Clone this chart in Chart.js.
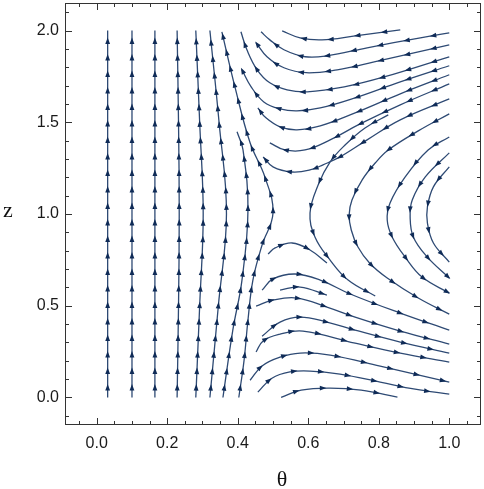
<!DOCTYPE html>
<html>
<head>
<meta charset="utf-8">
<script src="https://cdn.jsdelivr.net/npm/chart.js@4"></script>
<style>
  html, body { margin: 0; padding: 0; background: #fff; }
  canvas { display: block; }
</style>
</head>
<body>
<canvas id="flowChart" width="484" height="489"></canvas>
<script>
// tick labels
const xTickLabels = [0, 0.2, 0.4, 0.6, 0.8, 1.0];
const yTickLabels = [0, 0.5, 1.0, 1.5, 2.0];
const xMinorTicks = [-0.05, 0, 0.05, 0.1, 0.15, 0.2, 0.25, 0.3, 0.35, 0.4, 0.45, 0.5, 0.55, 0.6, 0.65, 0.7, 0.75, 0.8, 0.85, 0.9, 0.95, 1.0, 1.05];
const yMinorTicks = [-0.1, 0, 0.1, 0.2, 0.3, 0.4, 0.5, 0.6, 0.7, 0.8, 0.9, 1.0, 1.1, 1.2, 1.3, 1.4, 1.5, 1.6, 1.7, 1.8, 1.9, 2.0, 2.1];

// streamlines, [theta, z] in flow order
// left side, flowing up
const v1 = [[0.031, 0], [0.031, 2]];
const v2 = [[0.100, 0], [0.100, 2]];
const v3 = [[0.165, 0], [0.165, 2]];
const v4 = [[0.228, 0], [0.232, 0.5], [0.234, 1], [0.232, 1.5], [0.228, 2]];
const v5 = [[0.281, 0], [0.292, 0.5], [0.302, 1], [0.292, 1.5], [0.281, 2]];
const v6 = [[0.321, 0], [0.345, 0.5], [0.368, 1], [0.347, 1.5], [0.321, 2]];
const v7 = [[0.403, 0], [0.418, 0.204], [0.429, 0.422], [0.443, 0.640], [0.469, 0.831], [0.500, 1.005],
            [0.477, 1.202], [0.435, 1.388], [0.392, 1.693], [0.355, 1.993]];
const v8 = [[0.358, 0], [0.386, 0.367], [0.412, 0.640], [0.429, 1.022], [0.415, 1.349], [0.398, 1.448]];

// upper side, flowing left then up
const u1 = [[0.861, 2.004], [0.733, 1.971], [0.639, 1.949], [0.577, 1.960], [0.526, 1.998]];
const u2 = [[1.0, 1.987], [0.918, 1.960], [0.767, 1.906], [0.653, 1.862], [0.591, 1.857], [0.531, 1.895], [0.491, 1.949], [0.466, 1.993]];
const u3 = [[1.0, 1.922], [0.787, 1.829], [0.682, 1.786], [0.594, 1.770], [0.531, 1.797], [0.483, 1.857], [0.452, 1.933]];
const u4 = [[1.0, 1.857], [0.815, 1.747], [0.702, 1.693], [0.597, 1.666], [0.540, 1.677], [0.491, 1.715], [0.455, 1.786], [0.426, 1.895], [0.409, 1.993]];
const u5 = [[1.0, 1.808], [0.861, 1.720], [0.733, 1.633], [0.634, 1.578], [0.568, 1.562], [0.520, 1.573], [0.474, 1.611], [0.438, 1.693], [0.412, 1.786]];
const u6 = [[1.0, 1.759], [0.861, 1.655], [0.733, 1.551], [0.634, 1.480], [0.568, 1.459], [0.520, 1.475], [0.480, 1.524], [0.457, 1.578]];
const u7 = [[1.0, 1.709], [0.861, 1.595], [0.747, 1.491], [0.662, 1.404], [0.591, 1.349], [0.534, 1.349], [0.491, 1.388]];
const u8 = [[1.0, 1.627], [0.861, 1.513], [0.767, 1.404], [0.690, 1.311], [0.642, 1.268], [0.605, 1.240], [0.554, 1.229], [0.500, 1.257], [0.472, 1.311]];

// right side, flowing down
const r0 = [[0.827, 1.540], [0.761, 1.469], [0.705, 1.377], [0.662, 1.284], [0.628, 1.158], [0.605, 1.005],
            [0.619, 0.875], [0.662, 0.749], [0.713, 0.640], [0.790, 0.553]];
const ca = [[1.0, 1.546], [0.912, 1.453], [0.827, 1.349], [0.790, 1.278], [0.753, 1.186], [0.724, 1.076], [0.716, 0.995],
            [0.722, 0.913], [0.741, 0.820], [0.775, 0.730], [0.824, 0.651], [0.912, 0.542], [1.0, 0.454]];
const cb = [[1.0, 1.420], [0.940, 1.349], [0.875, 1.202], [0.832, 1.060], [0.824, 0.967], [0.838, 0.875], [0.875, 0.765], [0.923, 0.656], [1.0, 0.569]];
const cc = [[1.0, 1.333], [0.932, 1.202], [0.895, 1.076], [0.889, 0.984], [0.898, 0.875], [0.938, 0.765], [1.0, 0.651]];
const cd = [[1.0, 1.257], [0.955, 1.148], [0.938, 1.038], [0.938, 0.951], [0.955, 0.842], [1.0, 0.738]];

// lower side, flowing up then right
const l1 = [[0.523, 0], [0.580, 0.040], [0.662, 0.051], [0.750, 0.040], [0.853, 0.002]];
const l2 = [[0.457, 0.029], [0.497, 0.105], [0.548, 0.139], [0.605, 0.144], [0.690, 0.127], [0.804, 0.084], [0.903, 0.045], [1.0, 0.018]];
const l3 = [[0.435, 0.094], [0.469, 0.172], [0.520, 0.220], [0.577, 0.242], [0.662, 0.231], [0.804, 0.171], [1.0, 0.084]];
const l4 = [[0.452, 0.248], [0.472, 0.308], [0.520, 0.345], [0.585, 0.362], [0.733, 0.296], [0.861, 0.242], [1.0, 0.193]];
const l5 = [[0.469, 0.334], [0.520, 0.411], [0.577, 0.438], [0.653, 0.411], [0.733, 0.367], [0.861, 0.302], [1.0, 0.242]];
const l6 = [[0.452, 0.498], [0.500, 0.531], [0.568, 0.542], [0.653, 0.493], [0.733, 0.438], [0.861, 0.362], [1.0, 0.291]];
const l7 = [[0.469, 0.585], [0.500, 0.646], [0.563, 0.673], [0.634, 0.640], [0.719, 0.564], [0.861, 0.460], [1.0, 0.367]];
const l8 = [[0.486, 0.782], [0.506, 0.815], [0.554, 0.842], [0.605, 0.804], [0.653, 0.733]];
const s2 = [[0.520, 0.585], [0.577, 0.602], [0.653, 0.558]];

const leftLines = [v1, v2, v3, v4, v5, v6, v7, v8];
const otherLines = [u1, u2, u3, u4, u5, u6, u7, u8, r0, ca, cb, cc, cd, l1, l2, l3, l4, l5, l6, l7, l8, s2];

const lineColor = '#2e4a74';
const arrowColor = '#0f2b57';

function makeSet(pts, gap) {
  return {
    data: pts.map(p => ({ x: p[0], y: p[1] })),
    showLine: true,
    borderColor: lineColor,
    borderWidth: 1.3,
    pointRadius: 0,
    tension: 0.4,
    fill: false,
    arrowGap: gap
  };
}

const datasets = leftLines.map(l => makeSet(l, 16.5)).concat(otherLines.map(l => makeSet(l, 27)));

// arrow heads spaced along each drawn curve
const arrowPlugin = {
  id: 'arrows',
  afterDatasetsDraw(chart) {
    const ctx = chart.ctx;
    ctx.save();
    ctx.fillStyle = arrowColor;
    chart.data.datasets.forEach((ds, i) => {
      const pts = chart.getDatasetMeta(i).data;
      const path = [];
      for (let k = 0; k < pts.length - 1; k++) {
        const a = pts[k], b = pts[k + 1];
        const c1x = a.cp2x ?? a.x, c1y = a.cp2y ?? a.y;
        const c2x = b.cp1x ?? b.x, c2y = b.cp1y ?? b.y;
        for (let s = (k ? 1 : 0); s <= 24; s++) {
          const t = s / 24, m = 1 - t;
          path.push([
            m * m * m * a.x + 3 * m * m * t * c1x + 3 * m * t * t * c2x + t * t * t * b.x,
            m * m * m * a.y + 3 * m * m * t * c1y + 3 * m * t * t * c2y + t * t * t * b.y
          ]);
        }
      }
      const gap = ds.arrowGap;
      let next = gap * 0.6, run = 0;
      for (let k = 1; k < path.length; k++) {
        const dx = path[k][0] - path[k - 1][0], dy = path[k][1] - path[k - 1][1];
        const d = Math.hypot(dx, dy);
        if (!d) continue;
        while (run + d >= next) {
          const t = (next - run) / d;
          const px = path[k - 1][0] + dx * t, py = path[k - 1][1] + dy * t;
          const ux = dx / d, uy = dy / d;
          ctx.beginPath();
          ctx.moveTo(px + ux * 3.5, py + uy * 3.5);
          ctx.lineTo(px - ux * 3 - uy * 2.4, py - uy * 3 + ux * 2.4);
          ctx.lineTo(px - ux * 3 + uy * 2.4, py - uy * 3 - ux * 2.4);
          ctx.closePath();
          ctx.fill();
          next += gap;
        }
        run += d;
      }
    });
    ctx.restore();
  }
};

// frame with inward ticks on all four sides, plus axis titles
const framePlugin = {
  id: 'frame',
  afterDraw(chart) {
    const { ctx, chartArea: a, scales } = chart;
    ctx.save();
    ctx.strokeStyle = '#333';
    ctx.lineWidth = 1;
    ctx.strokeRect(a.left + 0.5, a.top + 0.5, a.right - a.left - 1, a.bottom - a.top - 1);
    ctx.beginPath();
    xMinorTicks.forEach(v => {
      const x = Math.round(scales.x.getPixelForValue(v)) + 0.5;
      const len = xTickLabels.some(t => Math.abs(t - v) < 1e-6) ? 7 : 4;
      ctx.moveTo(x, a.bottom); ctx.lineTo(x, a.bottom - len);
      ctx.moveTo(x, a.top); ctx.lineTo(x, a.top + len);
    });
    yMinorTicks.forEach(v => {
      const y = Math.round(scales.y.getPixelForValue(v)) + 0.5;
      const len = yTickLabels.some(t => Math.abs(t - v) < 1e-6) ? 7 : 4;
      ctx.moveTo(a.left, y); ctx.lineTo(a.left + len, y);
      ctx.moveTo(a.right, y); ctx.lineTo(a.right - len, y);
    });
    ctx.stroke();

    ctx.fillStyle = '#111';
    ctx.font = '22px "Liberation Serif", "DejaVu Serif", serif';
    ctx.textAlign = 'center';
    ctx.textBaseline = 'alphabetic';
    ctx.fillText('z', 8, 217);
    ctx.fillText('θ', 282, 486);
    ctx.restore();
  }
};

const tickFont = { family: '"Liberation Sans", Arial, sans-serif', size: 16 };

new Chart(document.getElementById('flowChart'), {
  type: 'scatter',
  data: { datasets: datasets },
  options: {
    responsive: false,
    animation: false,
    layout: { padding: { top: 3, right: 3, left: 0, bottom: 0 } },
    plugins: { legend: { display: false }, tooltip: { enabled: false } },
    scales: {
      x: {
        type: 'linear', min: -0.09, max: 1.09,
        grid: { display: false, drawTicks: false },
        border: { display: false },
        afterBuildTicks: s => { s.ticks = xTickLabels.map(v => ({ value: v })); },
        afterFit: s => { s.height = 64; s.paddingLeft = 0; s.paddingRight = 0; },
        ticks: { font: tickFont, color: '#1a1a1a', padding: 9, maxRotation: 0, autoSkip: false,
                 callback: v => Number(v).toFixed(1) }
      },
      y: {
        type: 'linear', min: -0.15, max: 2.15,
        grid: { display: false, drawTicks: false },
        border: { display: false },
        afterBuildTicks: s => { s.ticks = yTickLabels.map(v => ({ value: v })); },
        afterFit: s => { s.width = 65; s.paddingTop = 0; s.paddingBottom = 0; },
        ticks: { font: tickFont, color: '#1a1a1a', padding: 6, autoSkip: false,
                 callback: v => Number(v).toFixed(1) }
      }
    }
  },
  plugins: [arrowPlugin, framePlugin]
});
</script>
</body>
</html>
